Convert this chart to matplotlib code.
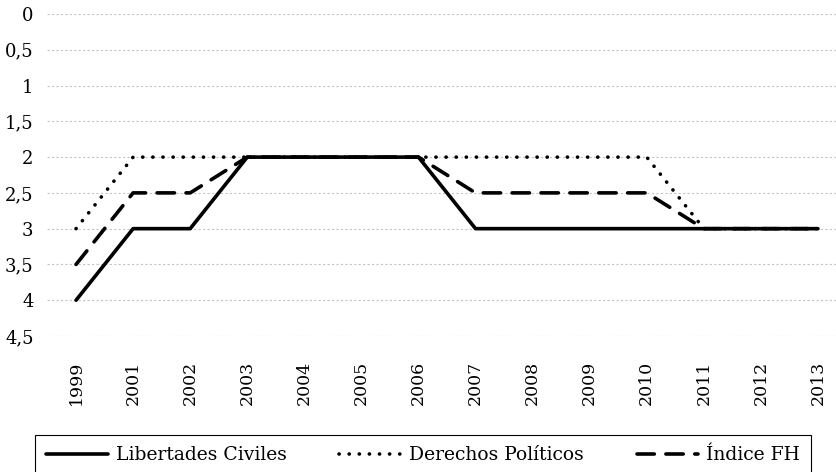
"""Indicadores Freedom House, 1999-2013 (escala invertida)."""

import matplotlib
matplotlib.use("Agg")
import matplotlib.pyplot as plt

years = ["1999", "2001", "2002", "2003", "2004", "2005", "2006",
         "2007", "2008", "2009", "2010", "2011", "2012", "2013"]
libertades = [4, 3, 3, 2, 2, 2, 2, 3, 3, 3, 3, 3, 3, 3]
derechos = [3, 2, 2, 2, 2, 2, 2, 2, 2, 2, 2, 3, 3, 3]
indice_fh = [3.5, 2.5, 2.5, 2, 2, 2, 2, 2.5, 2.5, 2.5, 2.5, 3, 3, 3]
y_ticks = [0, 0.5, 1, 1.5, 2, 2.5, 3, 3.5, 4, 4.5]

plt.rcParams.update({
    "font.family": "serif",
    "font.serif": ["DejaVu Serif", "Liberation Serif"],
    "font.size": 12,
})

W, H = 837, 472
fig = plt.figure(figsize=(W / 100, H / 100), dpi=100)
fig.patch.set_facecolor("white")
# plot area in pixels: left 47.5, right 846.5 (cropped), top 14, bottom 336
ax = fig.add_axes([47.5 / W, 1 - 336 / H, 799 / W, (336 - 14) / H])

x = range(len(years))
l1, = ax.plot(x, libertades, color="black", lw=2.6, solid_capstyle="round",
              solid_joinstyle="round", label="Libertades Civiles", zorder=3)
l2, = ax.plot(x, derechos, color="black", lw=2.6, ls=(0, (0.05, 2.75)),
              dash_capstyle="round", label="Derechos Políticos", zorder=3)
l3, = ax.plot(x, indice_fh, color="black", lw=2.6, ls=(0, (4.8, 3.2)),
              dash_capstyle="round", label="Índice FH", zorder=3)

ax.set_xlim(-0.5, len(years) - 0.5)
ax.set_ylim(4.5, 0)
ax.set_yticks(y_ticks)
ax.set_yticklabels([f"{v:g}".replace(".", ",") for v in y_ticks], fontsize=13)
ax.set_xticks(list(x))
ax.set_xticklabels(years, rotation=90, fontsize=12.5)
ax.tick_params(axis="y", length=0, pad=10)
ax.tick_params(axis="x", length=0, pad=18)
ax.grid(axis="y", color="#c4c4c4", lw=0.8, ls=(0, (2, 2)))
ax.set_axisbelow(True)
for spine in ax.spines.values():
    spine.set_visible(False)

leg = fig.legend(handles=[l1, l2, l3], loc="upper left", ncol=3, mode="expand",
                 bbox_to_anchor=(35 / W, 1 - 435 / H, 776 / W, 0),
                 borderaxespad=0, fontsize=13.5, handlelength=3.3,
                 handletextpad=0.4, borderpad=0.6, fancybox=False, framealpha=1)
leg.get_frame().set_edgecolor("black")
leg.get_frame().set_linewidth(0.8)

fig.savefig("out.png", dpi=100, facecolor="white")
